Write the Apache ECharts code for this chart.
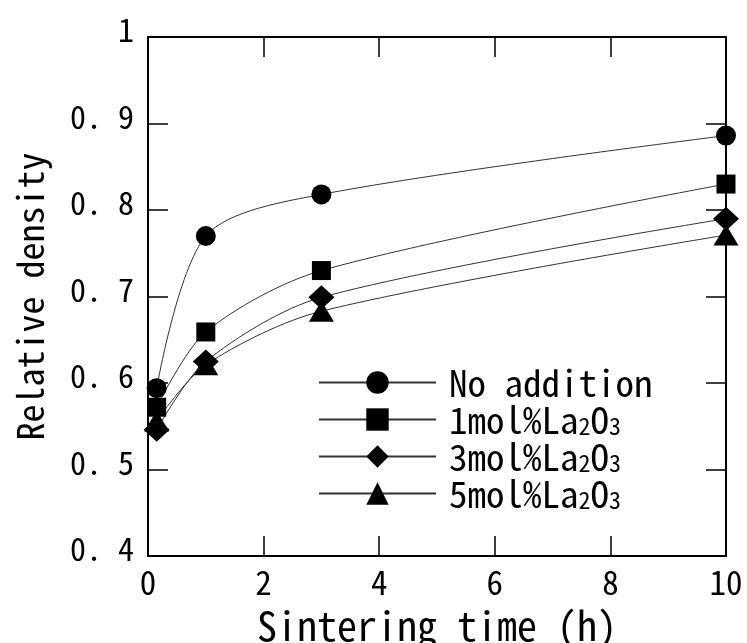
<!DOCTYPE html>
<html>
<head>
<meta charset="utf-8">
<script src="https://cdn.jsdelivr.net/npm/echarts@6/dist/echarts.min.js"></script>
<style>
html,body{margin:0;padding:0;background:#fff;}
#chart{width:747px;height:643px;}
</style>
</head>
<body>
<div id="chart"></div>
<script>
// Data
const times = [0.15, 1, 3, 10];
const seriesNames = ['No addition', '1mol%La2O3', '3mol%La2O3', '5mol%La2O3'];
const noAddition = [0.594, 0.770, 0.818, 0.886];
const la1 = [0.572, 0.659, 0.730, 0.830];
const la3 = [0.546, 0.625, 0.699, 0.790];
const la5 = [0.556, 0.621, 0.683, 0.771];
const xTicks = [0, 2, 4, 6, 8, 10];
const yTicks = [0.4, 0.5, 0.6, 0.7, 0.8, 0.9, 1.0];

const FONT = '"Noto Sans Mono CJK JP", "Noto Sans CJK JP", "DejaVu Sans Mono", monospace';
const symbols = ['circle', 'rect', 'diamond', 'triangle'];
const sizes = [20, 19, [26, 24], [25, 21]];
const values = [noAddition, la1, la3, la5];

const chart = echarts.init(document.getElementById('chart'), null, {renderer: 'canvas'});

const series = seriesNames.map((name, i) => ({
  name: name,
  type: 'line',
  smooth: 0.3,
  data: times.map((t, j) => [t, values[i][j]]),
  symbol: symbols[i],
  symbolSize: sizes[i],
  itemStyle: {color: '#000'},
  lineStyle: {color: '#333', width: 1},
  z: 10 - i
}));

function legendFmt(name) {
  const head = '{a|' + name.charAt(0) + '}';
  const rest = name.slice(1).replace(/La2O3$/, 'La{s|2}O{s|3}');
  return head + rest;
}

const axisCommon = {
  type: 'value',
  axisLine: {show: true, onZero: false, lineStyle: {color: '#000', width: 2}},
  axisTick: {show: true, inside: true, length: 20, lineStyle: {color: '#000', width: 1.5}},
  splitLine: {show: false}
};

chart.setOption({
  animation: false,
  backgroundColor: '#fff',
  grid: {left: 148, right: 21, top: 37, bottom: 87, containLabel: false, outerBoundsMode: 'none'},
  xAxis: [
    Object.assign({}, axisCommon, {
      min: xTicks[0], max: xTicks[xTicks.length - 1], interval: 2,
      position: 'bottom',
      name: 'Sintering time (h)', nameLocation: 'middle', nameGap: 50,
      nameTextStyle: {fontFamily: FONT, fontSize: 40, color: '#000'},
      axisLabel: {fontFamily: FONT, fontSize: 33, color: '#000', margin: 10}
    }),
    Object.assign({}, axisCommon, {
      min: xTicks[0], max: xTicks[xTicks.length - 1], interval: 2,
      position: 'top', axisLabel: {show: false}
    })
  ],
  yAxis: [
    Object.assign({}, axisCommon, {
      min: yTicks[0], max: yTicks[yTicks.length - 1], interval: 0.1,
      position: 'left',
      name: 'Relative density', nameLocation: 'middle', nameGap: 100,
      nameTextStyle: {fontFamily: FONT, fontSize: 36, color: '#000'},
      axisLabel: {
        fontFamily: FONT, fontSize: 32, color: '#000', margin: 14,
        verticalAlign: 'bottom', lineHeight: 14,
        formatter: v => {
          const r = Math.round(v * 10) / 10;
          if (r === 1) return '1';
          return r.toFixed(1).replace('.', '. ');
        }
      }
    }),
    Object.assign({}, axisCommon, {
      min: yTicks[0], max: yTicks[yTicks.length - 1], interval: 0.1,
      position: 'right', axisLabel: {show: false}
    })
  ],
  legend: {
    left: 318, top: 364, padding: 0,
    orient: 'vertical',
    itemWidth: 117, itemHeight: 28, itemGap: 0,
    data: seriesNames,
    formatter: legendFmt,
    textStyle: {
      fontFamily: FONT, fontSize: 37, color: '#000',
      rich: {
        a: {fontFamily: FONT, fontSize: 37, color: '#000', padding: [0, 0, 0, 8]},
        s: {fontFamily: FONT, fontSize: 24, color: '#000', verticalAlign: 'bottom'}
      }
    }
  },
  series: series
});
</script>
</body>
</html>
